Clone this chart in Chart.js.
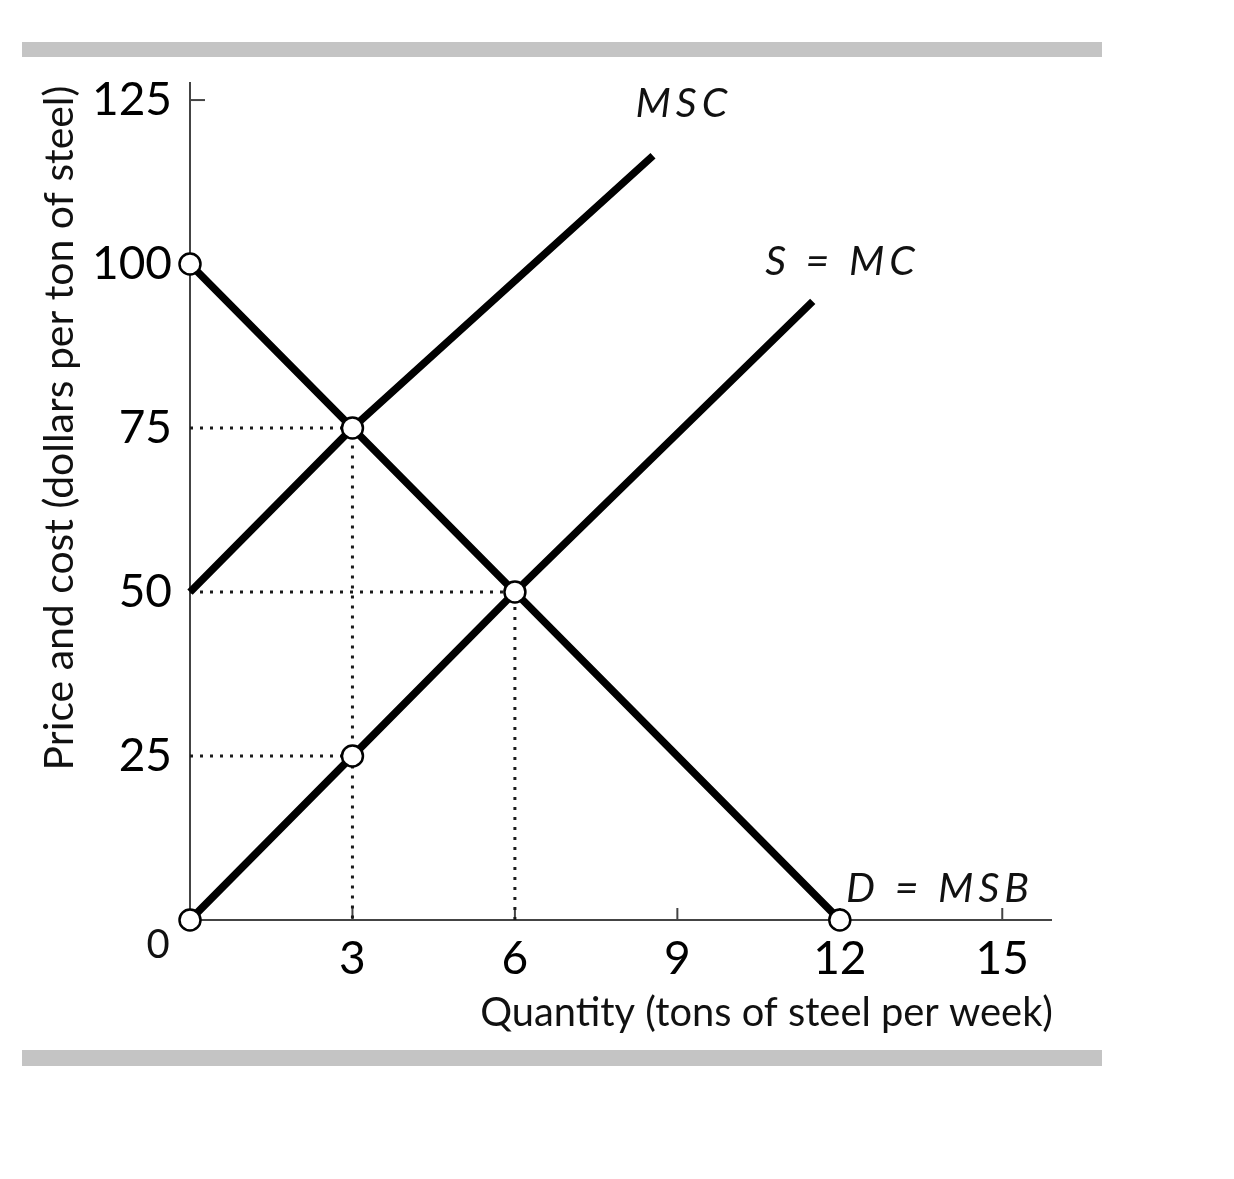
<!DOCTYPE html>
<html><head><meta charset="utf-8">
<script src="https://cdn.jsdelivr.net/npm/chart.js@4.4.1/dist/chart.umd.min.js"></script>
<style>html,body{margin:0;padding:0;background:#fff;}canvas{display:block;}</style>
</head><body>
<canvas id="c" width="1234" height="1179"></canvas>
<script>
// ---- data ----
const xTickValues = [3, 6, 9, 12, 15];
const yTickValues = [25, 50, 75, 100, 125];
const mscX = [0, 3, 8.55];
const mscY = [50, 75, 116.5];
const mcX = [0, 3, 6, 11.5];
const mcY = [0, 25, 50, 94.3];
const dX = [0, 3, 6, 12];
const dY = [100, 75, 50, 0];
const markX = [0, 3, 6, 3, 0, 12];
const markY = [100, 75, 50, 25, 0, 0];
const guide75X = [0, 3, 3];
const guide75Y = [75, 75, 0];
const guide50X = [0, 6, 6];
const guide50Y = [50, 50, 0];
const guide25X = [0, 3];
const guide25Y = [25, 25];
const curveNames = ['MSC', 'S = MC', 'D = MSB'];
const xTitle = 'Quantity (tons of steel per week)';
const yTitle = 'Price and cost (dollars per ton of steel)';
const originLabel = '0';

const pts = (xs, ys) => xs.map((x, i) => ({x: x, y: ys[i]}));

const curveStyle = {borderColor: '#000', borderWidth: 7.5, pointRadius: 0, tension: 0, clip: false, borderCapStyle: 'butt', order: 1};
const guideStyle = {borderColor: '#1a1a1a', borderWidth: 3, borderDash: [3, 7], pointRadius: 0, tension: 0, clip: false, order: 2};

const deco = {
  id: 'deco',
  beforeDraw(chart) {
    const ctx = chart.ctx;
    ctx.save();
    ctx.fillStyle = '#fff';
    ctx.fillRect(0, 0, chart.width, chart.height);
    ctx.fillStyle = '#c4c4c4';
    ctx.fillRect(22, 42, 1080, 15);
    ctx.fillRect(22, 1050, 1080, 16);
    ctx.restore();
  },
  beforeDatasetsDraw(chart) {
    const ctx = chart.ctx, xs = chart.scales.x, ys = chart.scales.y;
    ctx.save();
    ctx.strokeStyle = '#444';
    ctx.lineWidth = 2;
    const y0 = ys.getPixelForValue(0);
    xTickValues.forEach(v => {
      const px = xs.getPixelForValue(v);
      ctx.beginPath(); ctx.moveTo(px, y0); ctx.lineTo(px, y0 - 12); ctx.stroke();
    });
    const x0 = xs.getPixelForValue(0);
    const py = ys.getPixelForValue(125);
    ctx.beginPath(); ctx.moveTo(x0, py); ctx.lineTo(x0 + 15, py); ctx.stroke();
    ctx.restore();
  },
  afterDraw(chart) {
    const ctx = chart.ctx, xs = chart.scales.x, ys = chart.scales.y;
    ctx.save();
    ctx.fillStyle = '#111';
    // curve labels
    ctx.font = 'italic 41px Lato';
    ctx.letterSpacing = '5px';
    ctx.textAlign = 'center';
    ctx.textBaseline = 'middle';
    const anchors = [[9.12, 124.4], [12.05, 100.4], [13.85, 4.7]];
    curveNames.forEach((t, i) => {
      ctx.fillText(t, xs.getPixelForValue(anchors[i][0]), ys.getPixelForValue(anchors[i][1]));
    });
    ctx.letterSpacing = '0px';
    // origin label
    ctx.font = '40px Lato';
    ctx.fillText(originLabel, 158, 945);
    // x title
    let fs = 34;
    ctx.font = fs + 'px Lato';
    let w = ctx.measureText(xTitle).width;
    fs = fs * 573 / w;
    ctx.font = fs + 'px Lato';
    ctx.textAlign = 'right';
    ctx.textBaseline = 'alphabetic';
    ctx.fillText(xTitle, 1053, 1026);
    // y title
    let fy = 34;
    ctx.font = fy + 'px Lato';
    w = ctx.measureText(yTitle).width;
    fy = fy * 685 / w;
    ctx.font = fy + 'px Lato';
    ctx.translate(60, 428);
    ctx.rotate(-Math.PI / 2);
    ctx.textAlign = 'center';
    ctx.textBaseline = 'middle';
    ctx.fillText(yTitle, 0, 0);
    ctx.restore();
  }
};

new Chart(document.getElementById('c'), {
  type: 'line',
  data: {
    datasets: [
      {data: pts(markX, markY), showLine: false, pointRadius: 10.5, pointBackgroundColor: '#fff', pointBorderColor: '#000', pointBorderWidth: 2.5, clip: false, order: 0},
      Object.assign({data: pts(dX, dY)}, curveStyle),
      Object.assign({data: pts(mcX, mcY)}, curveStyle),
      Object.assign({data: pts(mscX, mscY)}, curveStyle),
      Object.assign({data: pts(guide75X, guide75Y)}, guideStyle),
      Object.assign({data: pts(guide50X, guide50Y)}, guideStyle),
      Object.assign({data: pts(guide25X, guide25Y)}, guideStyle)
    ]
  },
  options: {
    responsive: false,
    animation: false,
    events: [],
    plugins: {legend: {display: false}, tooltip: {enabled: false}},
    layout: {padding: {left: 0, top: 83, right: 183, bottom: 0}},
    scales: {
      x: {
        type: 'linear', min: 0, max: 15.9,
        afterBuildTicks: s => { s.ticks = xTickValues.map(v => ({value: v})); },
        afterFit: s => { s.height = 259; },
        grid: {display: false, drawTicks: false},
        border: {display: true, color: '#444', width: 2},
        ticks: {font: {family: 'Lato', size: 46}, color: '#000', padding: 12, maxRotation: 0, autoSkip: false}
      },
      y: {
        type: 'linear', min: 0, max: 127.6,
        afterBuildTicks: s => { s.ticks = yTickValues.map(v => ({value: v})); },
        afterFit: s => { s.width = 190; },
        grid: {display: false, drawTicks: false},
        border: {display: true, color: '#444', width: 2},
        ticks: {font: {family: 'Lato', size: 46}, color: '#000', padding: 18}
      }
    }
  },
  plugins: [deco]
});
</script>
</body></html>
